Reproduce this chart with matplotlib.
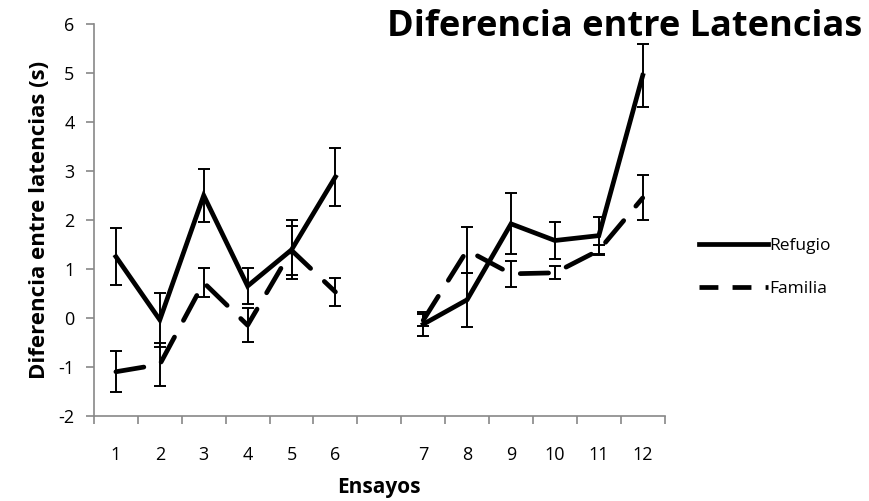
import numpy as np
import matplotlib.pyplot as plt
from matplotlib.lines import Line2D

plt.rcParams['font.family'] = ['Open Sans', 'DejaVu Sans']
plt.rcParams['axes.unicode_minus'] = False

# ensayos 1-6, un hueco, ensayos 7-12
ensayos = ['1', '2', '3', '4', '5', '6', '', '7', '8', '9', '10', '11', '12']

refugio = [1.25, -0.04, 2.5, 0.65, 1.39, 2.88, np.nan, -0.13, 0.37, 1.92, 1.58, 1.68, 4.95]
refugio_err = [0.58, 0.55, 0.55, 0.37, 0.6, 0.59, np.nan, 0.25, 0.55, 0.62, 0.37, 0.37, 0.65]

familia = [-1.1, -0.95, 0.72, -0.15, 1.38, 0.53, np.nan, -0.05, 1.38, 0.9, 0.92, 1.38, 2.45]
familia_err = [0.42, 0.44, 0.3, 0.35, 0.5, 0.29, np.nan, 0.12, 0.47, 0.26, 0.13, 0.1, 0.46]

x = np.arange(len(ensayos))

fig = plt.figure(figsize=(8.7, 5.01), dpi=100)
ax = fig.add_axes([0.108, 0.17, 0.656, 0.782])

ax.plot(x, refugio, color='black', lw=3.4, solid_joinstyle='miter')
ax.plot(x, familia, color='black', lw=3.4, dashes=(6, 4), dash_capstyle='round')
ax.errorbar(x, refugio, yerr=refugio_err, fmt='none', ecolor='black', elinewidth=1.4, capsize=4, capthick=1.4)
ax.errorbar(x, familia, yerr=familia_err, fmt='none', ecolor='black', elinewidth=1.4, capsize=4, capthick=1.4)

ax.set_xlim(-0.5, len(ensayos) - 0.5)
ax.set_ylim(-2, 6)
ax.set_yticks(range(-2, 7))
ax.set_xticks(x)
ax.set_xticklabels(ensayos)
ax.set_xticks(np.arange(-0.5, len(ensayos), 1), minor=True)
ax.tick_params(axis='x', which='major', length=0, pad=22, labelsize=13)
ax.tick_params(axis='x', which='minor', length=6, color='#888888', width=1.2)
ax.tick_params(axis='y', length=6, color='#888888', width=1.2, labelsize=13, pad=8)

for s in ['top', 'right']:
    ax.spines[s].set_visible(False)
for s in ['left', 'bottom']:
    ax.spines[s].set_color('#888888')
    ax.spines[s].set_linewidth(1.2)

ax.set_xlabel('Ensayos', fontsize=15, fontweight='bold', labelpad=9)
ax.set_ylabel('Diferencia entre latencias (s)', fontsize=16, fontweight='bold', labelpad=6)

fig.text(0.991, 0.947, 'Diferencia entre Latencias', fontsize=26, fontweight='bold', ha='right', va='center')

handles = [Line2D([], [], color='black', lw=3.4),
           Line2D([], [], color='black', lw=3.4, dashes=(4, 3))]
fig.legend(handles, ['Refugio', 'Familia'], loc='center left', bbox_to_anchor=(0.785, 0.466),
           frameon=False, fontsize=12.5, handlelength=4.0, handletextpad=0.05, labelspacing=1.55)

fig.savefig('out.png', dpi=100)
